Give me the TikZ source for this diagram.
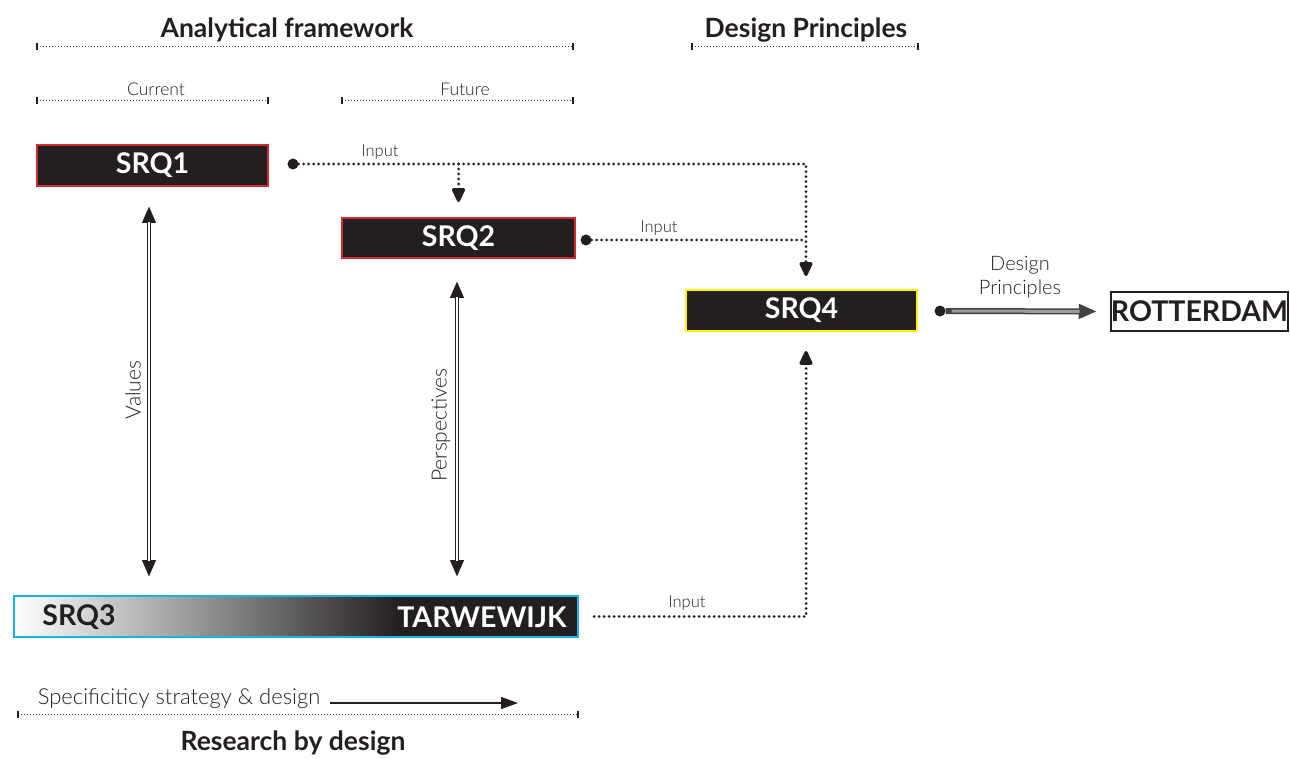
\documentclass[tikz,border=0pt]{standalone}
\usepackage{fontspec}
\setmainfont{Lato}
\newfontfamily\thinfont{Lato Light}
\usetikzlibrary{arrows.meta,calc}
\definecolor{boxblack}{HTML}{231F20}
\definecolor{srqred}{HTML}{D7282F}
\definecolor{srqyellow}{HTML}{FFF200}
\definecolor{srqcyan}{HTML}{1AB0E8}
\definecolor{dpgray}{HTML}{9A9A9A}
\tikzset{
  bigtip/.tip={Triangle[length=17pt,width=13pt]},
  dptip/.tip={Triangle[length=18pt,width=14pt]},
  smalltip/.tip={Triangle[length=16pt,width=14pt,round=false]},
}
\begin{document}
\begin{tikzpicture}[x=1pt,y=-1pt,
  heading/.style={font=\bfseries\fontsize{26.5}{26.5}\selectfont, text=boxblack, inner sep=0pt},
  subhead/.style={font=\thinfont\fontsize{17.5}{17.5}\selectfont, text=boxblack, inner sep=0pt},
  smalllabel/.style={font=\thinfont\fontsize{16.5}{16.5}\selectfont, text=boxblack, inner sep=0pt},
  biglabel/.style={font=\thinfont\fontsize{21}{23}\selectfont, text=boxblack, inner sep=0pt, align=center},
  srqbox/.style={draw=#1, line width=2pt, fill=boxblack, text=white,
    font=\bfseries\fontsize{28.5}{28.5}\selectfont, inner sep=0pt,
    minimum width=231pt, minimum height=41pt},
  boxtext/.style={font=\bfseries\fontsize{28.5}{28.5}\selectfont, inner sep=0pt},
  rulerline/.style={line width=1pt, boxblack!85, dash pattern=on 1pt off 2pt},
  rulertick/.style={line width=1.5pt, boxblack},
  dotline/.style={line width=3pt, boxblack, line cap=round, dash pattern=on 0pt off 5pt},
  dottip/.style={-{smalltip}},
  startdot/.style={circle, fill=boxblack, inner sep=0pt, minimum size=11pt},
  twinouter/.style={line width=4pt, boxblack},
  twininner/.style={line width=1.5pt, white},
]
\path[use as bounding box] (0,0) rectangle (1290,759);

% ---- column headings and their dotted rulers ----
\node[heading] (af) at (287,30) {Analytical framework};
\node[heading] (dph) at (806,30) {Design Principles};
\node[subhead] (cur) at (156,89) {Current};
\node[subhead] (fut) at (465,89) {Future};

\draw[rulerline] (37,47) -- (573,47);
\draw[rulertick] (37,43.5) -- (37,50.5) (573,43.5) -- (573,50.5);
\draw[rulerline] (692,47) -- (918,47);
\draw[rulertick] (692,43.5) -- (692,50.5) (918,43.5) -- (918,50.5);
\draw[rulerline] (37,101) -- (268,101);
\draw[rulertick] (37,97.5) -- (37,104.5) (268,97.5) -- (268,104.5);
\draw[rulerline] (342,101) -- (573,101);
\draw[rulertick] (342,97.5) -- (342,104.5) (573,97.5) -- (573,104.5);

% ---- research question boxes ----
\node[srqbox=srqred] (srq1) at (152.5,165.5) {SRQ1};
\node[srqbox=srqred, minimum width=233pt, minimum height=40pt] (srq2) at (458.5,238) {SRQ2};
\node[srqbox=srqyellow] (srq4) at (801.5,310.5) {SRQ4};
\node[draw=boxblack, line width=2.5pt, fill=white, text=boxblack,
      font=\bfseries\fontsize{28.5}{28.5}\selectfont, inner sep=0pt,
      minimum width=177pt, minimum height=39pt] (rot) at (1199.5,311.5) {ROTTERDAM};

% SRQ3 bar: white-to-black gradient ending in solid black
\shade[left color=white, right color=boxblack] (14,596) rectangle (401,637);
\fill[boxblack] (400,596) rectangle (578,637);
\node[draw=srqcyan, line width=2pt, inner sep=0pt, minimum width=564pt, minimum height=41pt] (srq3) at (296,616.5) {};
\node[boxtext, text=boxblack] (srq3lbl) at (79,617) {SRQ3};
\node[boxtext, text=white] (tarw) at (482,617) {TARWEWIJK};

% ---- dotted input connectors ----
\coordinate (col4) at (806,0);
\node[startdot] (p1) at (293,164) {};
\node[startdot] (p2) at (586,240) {};
\node[startdot] (p4) at (940,311) {};

\draw[dotline, dottip, shorten >=13pt] (p1) -- (p1 -| col4) -- (srq4.north -| col4);
\draw[dotline, dottip, shorten >=15pt] (p1 -| srq2) -- (srq2.north);
\draw[dotline] (p2) -- (p2 -| col4);
\draw[dotline, dottip, shorten <=15pt, shorten >=19pt] (srq3.east) -- (srq3.east -| col4) -- (srq4.south -| col4);

\node[smalllabel] (in1) at (380,152) {Input};
\node[smalllabel] (in2) at (659,228) {Input};
\node[smalllabel] (in3) at (687,603) {Input};

% ---- two-way links (twin lines with solid heads) ----
\coordinate (colv) at (149,0);
\draw[twinouter, {bigtip}-{bigtip}, shorten <=19pt, shorten >=18pt] (srq1.south -| colv) -- (srq3.north -| colv);
\draw[twininner, shorten <=35pt, shorten >=34pt] (srq1.south -| colv) -- (srq3.north -| colv);
\node[biglabel, rotate=90] (val) at (133,390) {Values};

\coordinate (colp) at (457,0);
\draw[twinouter, {bigtip}-{bigtip}, shorten <=22pt, shorten >=18pt] (srq2.south -| colp) -- (srq3.north -| colp);
\draw[twininner, shorten <=38pt, shorten >=34pt] (srq2.south -| colp) -- (srq3.north -| colp);
\node[biglabel, rotate=90] (persp) at (441,425) {Perspectives};

% ---- design principles towards Rotterdam ----
\draw[line width=6pt, boxblack!85, -{dptip}, shorten >=13pt] (p4) -- (rot.west);
\draw[line width=3pt, dpgray, shorten <=6pt, shorten >=30pt] (p4) -- (rot.west);
\node[biglabel, font=\thinfont\fontsize{20}{24}\selectfont] (dpl) at (1020,277) {Design\\Principles};

% ---- research by design scale ----
\node[biglabel, font=\thinfont\fontsize{22}{22}\selectfont] (spec) at (179,699) {Specificiticy strategy \& design};
\coordinate (sa) at (330,703);
\coordinate (sb) at (518,703);
\draw[line width=1.5pt, boxblack, -{Triangle[length=17pt,width=12pt]}] (sa) -- (sb);
\draw[rulerline] (18,714) -- (578,714);
\draw[rulertick] (18,710.5) -- (18,717.5) (578,710.5) -- (578,717.5);
\node[heading] (rbd) at (293,743) {Research by design};
\end{tikzpicture}
\end{document}
